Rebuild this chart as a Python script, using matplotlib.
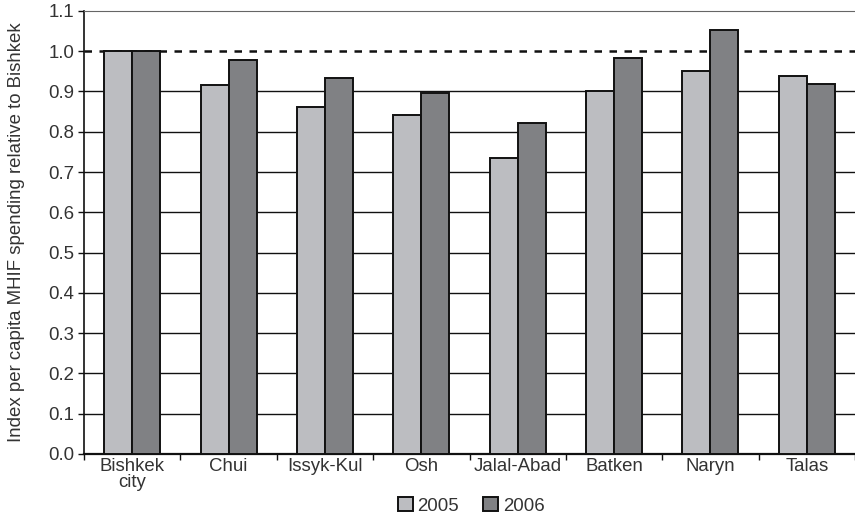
import matplotlib.pyplot as plt
import numpy as np

regions = ["Bishkek\ncity", "Chui", "Issyk-Kul", "Osh", "Jalal-Abad", "Batken", "Naryn", "Talas"]
index_2005 = [1.0, 0.916, 0.862, 0.842, 0.734, 0.900, 0.950, 0.939]
index_2006 = [1.0, 0.978, 0.933, 0.896, 0.822, 0.983, 1.052, 0.918]

plt.rcParams['font.family'] = ['Liberation Sans', 'DejaVu Sans']
plt.rcParams['font.size'] = 13.4
txt = "#333333"

fig = plt.figure(figsize=(8.55, 5.2), dpi=100)
ax = fig.add_axes([0.0983, 0.127, 0.9017, 0.852])

x = np.arange(len(regions))
w = 0.29
ax.bar(x - w / 2, index_2005, w, color="#bcbdc1", edgecolor="#111111", linewidth=1.4, label="2005", zorder=3)
ax.bar(x + w / 2, index_2006, w, color="#808184", edgecolor="#111111", linewidth=1.4, label="2006", zorder=3)

ax.set_ylim(0, 1.1)
ax.set_xlim(-0.5, len(regions) - 0.5)
ax.set_yticks(np.arange(0, 1.11, 0.1))
ax.set_yticklabels([f"{v:.1f}" for v in np.arange(0, 1.11, 0.1)], color=txt)
for v in np.arange(0.1, 0.95, 0.1):
    ax.axhline(v, color="#111111", linewidth=1.0, zorder=1)
ax.axhline(1.0, color="#111111", linewidth=1.8, linestyle=(0, (3, 3)), zorder=1)

ax.set_xticks(x)
ax.set_xticklabels(regions, color=txt, linespacing=0.95)
ax.tick_params(axis="x", which="major", length=0, pad=3)
ax.set_xticks(np.arange(-0.5, len(regions), 1.0), minor=True)
ax.tick_params(axis="x", which="minor", length=4, width=1, color="#111111", direction="out")
ax.tick_params(axis="y", length=4, width=1, color="#111111", pad=3)

ax.spines["right"].set_visible(False)
ax.spines["top"].set_color("#666666")
ax.spines["left"].set_color("#111111")
ax.spines["bottom"].set_color("#111111")
ax.spines["bottom"].set_linewidth(1.6)
ax.spines["left"].set_linewidth(1.2)

ax.set_ylabel("Index per capita MHIF spending relative to Bishkek", color=txt)
ax.yaxis.set_label_coords(-0.077, 0.5)

fig.legend(loc="center", bbox_to_anchor=(0.551, 0.027), ncol=2, frameon=False,
           handlelength=0.8, handleheight=0.8, handletextpad=0.25, columnspacing=1.3,
           labelcolor=txt)

fig.savefig("out.png", dpi=100)
